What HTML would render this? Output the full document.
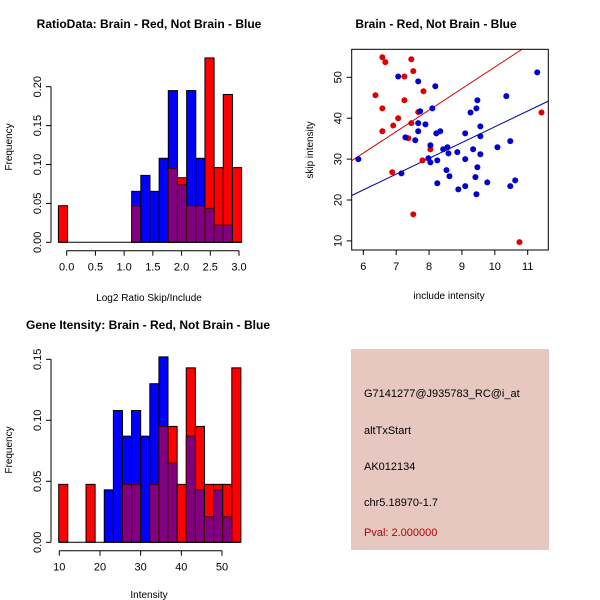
<!DOCTYPE html>
<html><head><meta charset="utf-8"><style>
html,body{margin:0;padding:0;background:#fff}
svg{display:block;font-family:"Liberation Sans",sans-serif}
</style></head><body>
<svg id="c" width="600" height="600" xmlns="http://www.w3.org/2000/svg">
<rect x="0" y="0" width="600" height="600" fill="#fff"/>
<text x="149" y="28" text-anchor="middle" font-size="12" font-weight="bold">RatioData: Brain - Red, Not Brain - Blue</text>
<text x="436" y="28" text-anchor="middle" font-size="12" font-weight="bold">Brain - Red, Not Brain - Blue</text>
<text x="148" y="329" text-anchor="middle" font-size="12" font-weight="bold">Gene Itensity: Brain - Red, Not Brain - Blue</text>
<text x="149" y="301" text-anchor="middle" font-size="10">Log2 Ratio Skip/Include</text>
<text x="149" y="598" text-anchor="middle" font-size="10">Intensity</text>
<text x="449" y="299" text-anchor="middle" font-size="10">include intensity</text>
<text transform="translate(12,147) rotate(-90)" text-anchor="middle" font-size="10">Frequency</text>
<text transform="translate(12,450) rotate(-90)" text-anchor="middle" font-size="10">Frequency</text>
<text transform="translate(313,150) rotate(-90)" text-anchor="middle" font-size="10">skip intensity</text>
<g id="h1"></g>
<g id="h2"></g>
<g id="sc"></g>
<rect x="351" y="349" width="198" height="201" fill="#e6c8c1"/>
<g font-size="11" fill="#000">
<text x="364" y="397">G7141277@J935783_RC@i_at</text>
<text x="364" y="434">altTxStart</text>
<text x="364" y="470">AK012134</text>
<text x="364" y="506">chr5.18970-1.7</text>
<text x="364" y="536" fill="#b00000">Pval: 2.000000</text>
</g>
</svg>
<script>
// Ratio histogram data
const ratioBinStart = -0.145;
const ratioBinWidth = 0.1595;
const ratioRed  = [0.047,0,0,0,0,0,0,0,0.047,0,0,0,0.095,0.083,0.047,0.047,0.237,0.096,0.19,0.096];
const ratioBlue = [0,0,0,0,0,0,0,0,0.0655,0.086,0.0655,0.108,0.195,0.074,0.195,0.108,0.0436,0.022,0.022,0];
const ratioXTicks = ["0.0","0.5","1.0","1.5","2.0","2.5","3.0"];
const ratioYTicks = ["0.00","0.05","0.10","0.15","0.20"];
// Intensity histogram data
const intBinStart = 9.85;
const intBinWidth = 2.24;
const intRed  = [0.0475,0,0,0.0475,0,0,0,0.0475,0.0475,0,0.0475,0.095,0.095,0.0475,0.143,0.095,0.0475,0.0475,0.0475,0.143];
const intBlue = [0,0,0,0,0,0.043,0.108,0.087,0.108,0.087,0.130,0.152,0.065,0,0.087,0.043,0.021,0.043,0.021,0];
const intXTicks = ["10","20","30","40","50"];
const intYTicks = ["0.00","0.05","0.10","0.15"];
// Scatter data
const redX = [6.58,6.67,6.37,6.58,6.58,6.91,7.06,7.25,7.25,7.46,7.52,7.83,7.46,7.37,7.67,8.04,7.80,6.88,7.52,11.42,10.75];
const redY = [54.9,53.7,45.6,42.4,36.8,38.2,40.0,50.2,44.4,54.4,51.5,46.6,38.8,35.1,41.5,32.4,29.7,26.8,16.5,41.4,9.7];
const blueX = [5.85,7.06,7.67,8.19,7.73,8.10,7.67,7.89,7.67,7.28,7.58,8.22,8.34,8.04,8.43,8.56,8.59,7.98,8.04,8.25,7.16,8.25,8.53,8.62,8.86,9.10,9.10,8.89,9.10,9.26,9.44,9.47,9.56,9.56,9.34,9.56,9.47,9.41,9.44,9.77,10.08,10.35,10.47,10.47,10.62,11.29];
const blueY = [30.0,50.2,49.0,47.8,41.7,42.4,38.8,38.5,36.8,35.3,34.6,36.3,36.8,33.4,32.4,32.9,31.4,30.2,29.2,29.7,26.5,24.1,27.3,25.8,31.7,36.3,30.0,22.6,23.4,41.4,42.4,44.4,38.0,35.6,32.4,31.2,28.0,25.6,21.4,24.3,32.9,45.4,34.4,23.4,24.8,51.2];
const fitLines = [{slope:5.26, intercept:-0.1, color:"#cc0000"},{slope:3.86, intercept:-0.7, color:"#0000aa"}];
const scXTicks = [6,7,8,9,10,11];
const scYTicks = [10,20,30,40,50];

const NS = "http://www.w3.org/2000/svg";
function mk(parent, tag, attrs){const e=document.createElementNS(NS,tag);for(const k in attrs)e.setAttribute(k,attrs[k]);parent.appendChild(e);return e;}

function hist(gid, binStart, binW, red, blue, xTicks, yTicks, xs, ys, axisY, yAxisX){
  const g=document.getElementById(gid);
  const n=red.length;
  for(let i=0;i<n;i++){
    const x0=xs(binStart+i*binW), x1=xs(binStart+(i+1)*binW);
    const r=red[i], b=blue[i];
    const hi=Math.max(r,b), lo=Math.min(r,b);
    if(hi>0){
      const e=mk(g,"rect",{x:x0,y:ys(hi),width:x1-x0,height:ys(0)-ys(hi),fill:(r>=b?"#ff0000":"#0000ff"),stroke:"#000","stroke-width":1});
      
      
    }
    if(lo>0){
      const e=mk(g,"rect",{x:x0,y:ys(lo),width:x1-x0,height:ys(0)-ys(lo),fill:"#800080",stroke:"#400000","stroke-width":1});
      
      
    }
  }
  const bl=mk(g,"line",{x1:xs(binStart),x2:xs(binStart+n*binW),y1:ys(0),y2:ys(0),stroke:"#000"});
  
  
  const xv=xTicks.map(parseFloat);
  const xa=mk(g,"line",{x1:xs(xv[0]),x2:xs(xv[xv.length-1]),y1:axisY,y2:axisY,stroke:"#000"});
  
  
  xTicks.forEach((t)=>{
    const v=parseFloat(t);
    mk(g,"line",{x1:xs(v),x2:xs(v),y1:axisY,y2:axisY+5,stroke:"#000"});
    const tx=mk(g,"text",{x:xs(v),y:axisY+20,"text-anchor":"middle","font-size":11});
    tx.textContent=t;
    
    
  });
  const yv=yTicks.map(parseFloat);
  const ya=mk(g,"line",{x1:yAxisX,x2:yAxisX,y1:ys(yv[0]),y2:ys(yv[yv.length-1]),stroke:"#000"});
  
  
  yTicks.forEach((t)=>{
    const v=parseFloat(t);
    mk(g,"line",{x1:yAxisX-5,x2:yAxisX,y1:ys(v),y2:ys(v),stroke:"#000"});
    const tx=mk(g,"text",{transform:`translate(${yAxisX-10},${ys(v)}) rotate(-90)`,"text-anchor":"middle","font-size":11});
    tx.textContent=t;
    
    
  });
}
hist("h1",ratioBinStart,ratioBinWidth,ratioRed,ratioBlue,ratioXTicks,ratioYTicks,
  v=>66.7+v*(239-66.7)/3, v=>242.3-v*(242.3-86.7)/0.2, 250.7, 51);
hist("h2",intBinStart,intBinWidth,intRed,intBlue,intXTicks,intYTicks,
  v=>59.3+(v-10)*(222-59.3)/40, v=>542.3-v*(542.3-359.3)/0.15, 550.7, 51);

(function(){
  const g=document.getElementById("sc");
  const xs=v=>363.3+(v-6)*32.88, ys=v=>77.3+(50-v)*4.09;
  const L=351.7,R=548.3,T=49.3,B=250;
  const x0=6+(L-363.3)/32.88, x1=6+(R-363.3)/32.88;
  const cp=mk(g,"clipPath",{id:"scclip"});
  mk(cp,"rect",{x:L,y:T,width:R-L,height:B-T});
  fitLines.forEach((f,i)=>{
    const e=mk(g,"line",{x1:xs(x0),y1:ys(f.intercept+f.slope*x0),x2:xs(x1),y2:ys(f.intercept+f.slope*x1),stroke:f.color,"stroke-width":1,"clip-path":"url(#scclip)"});
    
    
  });
  redX.forEach((x,i)=>{
    const e=mk(g,"circle",{cx:xs(x),cy:ys(redY[i]),r:3,fill:"#e00000"});
    
    
  });
  blueX.forEach((x,i)=>{
    const e=mk(g,"circle",{cx:xs(x),cy:ys(blueY[i]),r:3,fill:"#0000d0"});
    
    
  });
  const box=mk(g,"rect",{x:L,y:T,width:R-L,height:B-T,fill:"none",stroke:"#000"});
  
  
  scXTicks.forEach(v=>{
    mk(g,"line",{x1:xs(v),x2:xs(v),y1:B,y2:B+5,stroke:"#000"});
    const t=mk(g,"text",{x:xs(v),y:B+20,"text-anchor":"middle","font-size":11});
    t.textContent=v;
    
    
  });
  scYTicks.forEach(v=>{
    mk(g,"line",{x1:L-5,x2:L,y1:ys(v),y2:ys(v),stroke:"#000"});
    const t=mk(g,"text",{transform:`translate(${L-10},${ys(v)}) rotate(-90)`,"text-anchor":"middle","font-size":11});
    t.textContent=v;
    
    
  });
})();
</script>
</body></html>
